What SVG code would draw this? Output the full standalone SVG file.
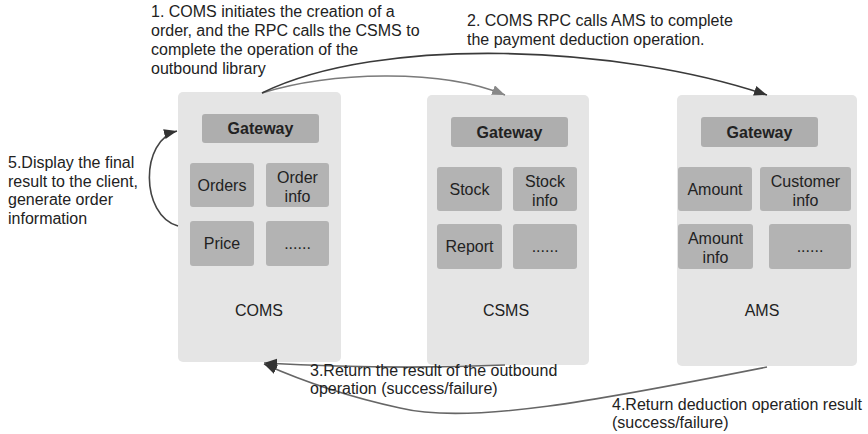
<svg xmlns="http://www.w3.org/2000/svg" width="868" height="434" viewBox="0 0 868 434">
  <defs>
    <marker id="headDark" markerUnits="userSpaceOnUse" markerWidth="14" markerHeight="12" refX="13" refY="5" orient="auto">
      <path d="M0,0 L13,5 L0,10 Z" fill="#333"/>
    </marker>
    <marker id="headGray" markerUnits="userSpaceOnUse" markerWidth="14" markerHeight="12" refX="13" refY="5" orient="auto">
      <path d="M0,0 L13,5 L0,10 Z" fill="#888"/>
    </marker>
  </defs>
  <style>
    text { font-family: "Liberation Sans", Arial, sans-serif; font-size: 16px; fill: #222; }
    .c { text-anchor: middle; }
    .b { font-weight: bold; }
    .svc { fill: #e5e5e5; }
    .gw { fill: #aeaeae; }
    .mod { fill: #b3b3b3; }
    .arr { fill: none; stroke-width: 1.6; }
  </style>

  <!-- COMS service -->
  <g id="coms">
    <rect class="svc" x="178" y="92" width="163" height="270" rx="5"/>
    <rect class="gw" x="202" y="114" width="117" height="29" rx="3"/>
    <text class="c b" x="260.5" y="134">Gateway</text>
    <rect class="mod" x="190" y="163" width="64" height="44" rx="3"/>
    <text class="c" x="222" y="191">Orders</text>
    <rect class="mod" x="266" y="163" width="63" height="44" rx="3"/>
    <text class="c" x="297.5" y="183">Order</text>
    <text class="c" x="297.5" y="202">info</text>
    <rect class="mod" x="190" y="221" width="64" height="45" rx="3"/>
    <text class="c" x="222" y="249">Price</text>
    <rect class="mod" x="266" y="221" width="63" height="45" rx="3"/>
    <text class="c" x="297.5" y="249">......</text>
    <text class="c" x="259" y="316">COMS</text>
  </g>

  <!-- CSMS service -->
  <g id="csms">
    <rect class="svc" x="427" y="95" width="162" height="270" rx="5"/>
    <rect class="gw" x="451" y="117" width="117" height="30" rx="3"/>
    <text class="c b" x="509.5" y="138">Gateway</text>
    <rect class="mod" x="437" y="167" width="65" height="44" rx="3"/>
    <text class="c" x="469.5" y="195">Stock</text>
    <rect class="mod" x="513" y="167" width="64" height="44" rx="3"/>
    <text class="c" x="545" y="187">Stock</text>
    <text class="c" x="545" y="206">info</text>
    <rect class="mod" x="437" y="224" width="65" height="45" rx="3"/>
    <text class="c" x="469.5" y="252">Report</text>
    <rect class="mod" x="513" y="224" width="64" height="45" rx="3"/>
    <text class="c" x="545" y="252">......</text>
    <text class="c" x="506" y="316">CSMS</text>
  </g>

  <!-- AMS service -->
  <g id="ams">
    <rect class="svc" x="677" y="95" width="180" height="271" rx="5"/>
    <rect class="gw" x="701" y="117" width="117" height="30" rx="3"/>
    <text class="c b" x="759.5" y="138">Gateway</text>
    <rect class="mod" x="678" y="167" width="74" height="44" rx="3"/>
    <text class="c" x="715" y="195">Amount</text>
    <rect class="mod" x="760" y="167" width="91" height="44" rx="3"/>
    <text class="c" x="805.5" y="187">Customer</text>
    <text class="c" x="805.5" y="206">info</text>
    <rect class="mod" x="678" y="224" width="75" height="45" rx="3"/>
    <text class="c" x="715.5" y="244">Amount</text>
    <text class="c" x="715.5" y="263">info</text>
    <rect class="mod" x="769" y="224" width="82" height="45" rx="3"/>
    <text class="c" x="810" y="252">......</text>
    <text class="c" x="762" y="316">AMS</text>
  </g>

  <!-- calls and returns between services -->
  <g id="connectors">
    <path class="arr" d="M262,93 C330,72 440,68 505,95" stroke="#7a7a7a" marker-end="url(#headGray)"/>
    <path class="arr" d="M262,93 C380,35 620,45 767,95" stroke="#3a3a3a" marker-end="url(#headDark)"/>
    <path class="arr" d="M505,365 Q390,370 264,363" stroke="#666" marker-end="url(#headDark)"/>
    <path class="arr" d="M767,367 C600,400 470,425 400,408 C340,395 300,380 264,364" stroke="#666" marker-end="url(#headDark)"/>
    <path class="arr" d="M178,226 C140,215 140,140 177,131" stroke="#444" marker-end="url(#headDark)"/>
  </g>

  <!-- step descriptions -->
  <g id="labels">
    <text x="151" y="17">1. COMS initiates the creation of a</text>
    <text x="151" y="36">order, and the RPC calls the CSMS to</text>
    <text x="151" y="55">complete the operation of the</text>
    <text x="151" y="74">outbound library</text>
    <text x="467" y="26">2. COMS RPC calls AMS to complete</text>
    <text x="467" y="45">the payment deduction operation.</text>
    <text x="8" y="168">5.Display the final</text>
    <text x="8" y="187">result to the client,</text>
    <text x="8" y="205">generate order</text>
    <text x="8" y="224">information</text>
    <text x="310" y="376">3.Return the result of the outbound</text>
    <text x="310" y="394">operation (success/failure)</text>
    <text x="612" y="410">4.Return deduction operation result</text>
    <text x="612" y="428">(success/failure)</text>
  </g>
</svg>
